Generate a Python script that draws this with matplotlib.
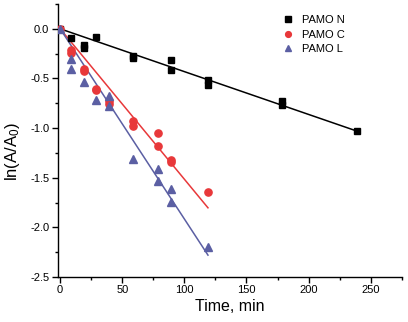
import numpy as np
import matplotlib
matplotlib.use("Agg")
import matplotlib.pyplot as plt
from matplotlib.ticker import MultipleLocator, FormatStrFormatter

plt.rcParams['font.family'] = ['Liberation Sans', 'DejaVu Sans']
plt.rcParams['axes.unicode_minus'] = False
plt.rcParams['mathtext.fontset'] = 'custom'
plt.rcParams['mathtext.rm'] = 'Liberation Sans'
plt.rcParams['mathtext.it'] = 'Liberation Sans'

# Time (min) and ln(A/A0) for each sample
t_n = [0, 9, 19, 19, 29, 59, 59, 89, 89, 119, 119, 179, 179, 239]
y_n = [0.0, -0.09, -0.16, -0.19, -0.085, -0.27, -0.29, -0.31, -0.41, -0.52, -0.57, -0.73, -0.77, -1.025]

t_c = [0, 9, 9, 19, 19, 29, 29, 39, 39, 59, 59, 79, 79, 89, 89, 119]
y_c = [0.0, -0.21, -0.24, -0.40, -0.42, -0.61, -0.62, -0.73, -0.76, -0.93, -0.98, -1.045, -1.18, -1.32, -1.345, -1.64]

t_l = [0, 9, 9, 19, 29, 39, 39, 59, 79, 79, 89, 89, 119]
y_l = [0.0, -0.30, -0.40, -0.54, -0.72, -0.675, -0.78, -1.31, -1.415, -1.53, -1.615, -1.745, -2.20]

labels = ["PAMO N", "PAMO C", "PAMO L"]
colors = ["#000000", "#e8383a", "#5b5fa3"]
markers = ["s", "o", "^"]
msizes = [5.0, 5.2, 6.0]

fig = plt.figure(figsize=(4.08, 3.22), dpi=100)
ax = fig.add_axes([0.1414, 0.1398, 0.8432, 0.8478])

for t, y, lab, c, m, ms in zip([t_n, t_c, t_l], [y_n, y_c, y_l], labels, colors, markers, msizes):
    t = np.asarray(t, float)
    y = np.asarray(y, float)
    # first-order rate constant: least-squares fit through the origin
    k = np.sum(t * y) / np.sum(t * t)
    tt = np.array([0.0, t.max()])
    ax.plot(tt, k * tt, color=c, lw=1.1, zorder=2)
    ax.plot(t, y, ls="none", marker=m, ms=ms, color=c, mec=c, label=lab, zorder=3)

ax.set_xlim(-2, 275)
ax.set_ylim(-2.5, 0.25)
ax.xaxis.set_major_locator(MultipleLocator(50))
ax.xaxis.set_minor_locator(MultipleLocator(25))
ax.yaxis.set_major_locator(MultipleLocator(0.5))
ax.yaxis.set_minor_locator(MultipleLocator(0.25))
ax.yaxis.set_major_formatter(FormatStrFormatter("%.1f"))

for s in ["top", "right"]:
    ax.spines[s].set_visible(False)
for s in ["left", "bottom"]:
    ax.spines[s].set_linewidth(1.0)

ax.tick_params(which="major", direction="out", length=4, width=1.0, labelsize=8, pad=2)
ax.tick_params(which="minor", direction="out", length=2, width=1.0)

ax.set_xlabel("Time, min", fontsize=11.5, labelpad=3)
ax.set_ylabel(r"ln(A/A$_0$)", fontsize=12)
ax.yaxis.set_label_coords(-0.104, 0.46)

leg = ax.legend(loc="upper left", bbox_to_anchor=(0.64, 0.975), frameon=False,
                fontsize=8, handlelength=1.0, handletextpad=0.8,
                labelspacing=0.4, borderaxespad=0, markerscale=0.8)

fig.savefig("out.png", dpi=100)
